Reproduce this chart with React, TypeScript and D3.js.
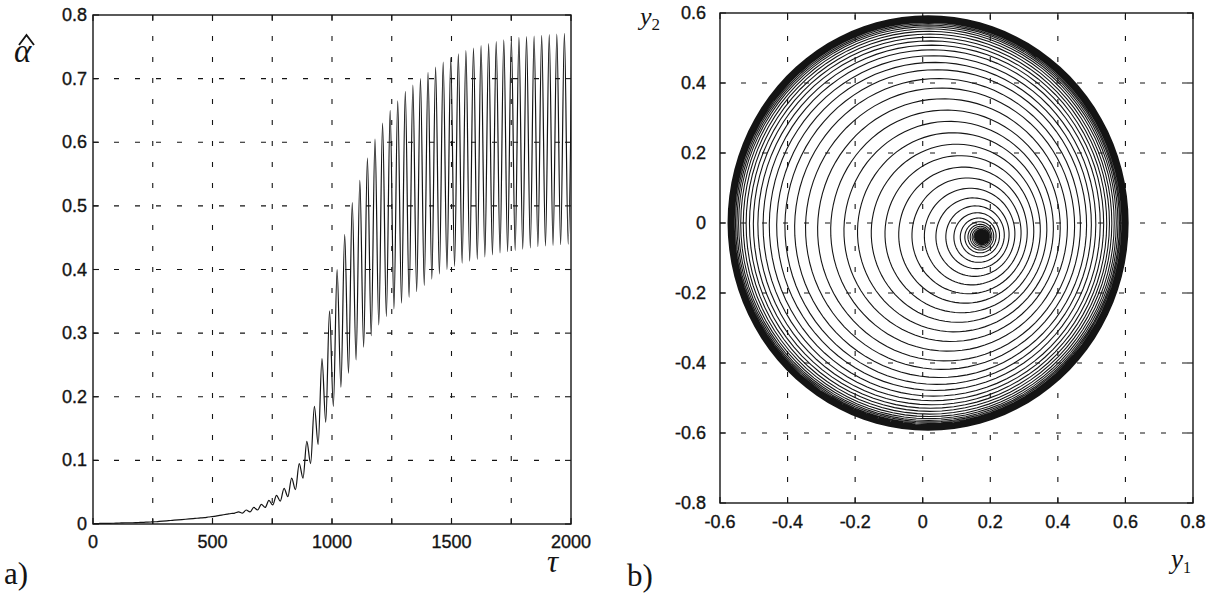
import React from 'react';
import * as d3 from 'd3';

// ---- panel a): alpha-hat vs tau, one peak and one trough per cycle ----
const firstPeakTau = 7;
const cyclePeriod = 31.7;
const alphaPeaks = [
  0.0005, 0.001, 0.001, 0.0015, 0.002, 0.002, 0.0025, 0.003, 0.0035, 0.0045,
  0.0055, 0.0065, 0.0075, 0.0085, 0.0095, 0.011, 0.0125, 0.0145, 0.0165, 0.019,
  0.022, 0.026, 0.031, 0.037, 0.045, 0.056, 0.072, 0.095, 0.13, 0.185,
  0.26, 0.335, 0.4, 0.455, 0.505, 0.54, 0.575, 0.605, 0.63, 0.65,
  0.665, 0.68, 0.69, 0.7, 0.71, 0.718, 0.726, 0.733, 0.739, 0.744,
  0.748, 0.752, 0.755, 0.758, 0.761, 0.763, 0.765, 0.766, 0.767, 0.768,
  0.769, 0.77, 0.771, 0.771,
];
const alphaTroughs = [
  0.0007, 0.001, 0.0012, 0.0017, 0.002, 0.0022, 0.0027, 0.0032, 0.004, 0.005,
  0.006, 0.007, 0.008, 0.009, 0.01, 0.0117, 0.0135, 0.0155, 0.0172, 0.017,
  0.019, 0.022, 0.026, 0.03, 0.036, 0.043, 0.054, 0.072, 0.095, 0.125,
  0.16, 0.185, 0.215, 0.237, 0.258, 0.278, 0.296, 0.313, 0.326, 0.338,
  0.347, 0.356, 0.365, 0.375, 0.385, 0.393, 0.4, 0.405, 0.41, 0.413,
  0.416, 0.42, 0.423, 0.426, 0.428, 0.43, 0.432, 0.434, 0.436, 0.437,
  0.438, 0.439, 0.44,
];
const tauTicks = [0, 250, 500, 750, 1000, 1250, 1500, 1750, 2000];
const tauLabels = [0, 500, 1000, 1500, 2000];
const alphaTicks = [0, 0.1, 0.2, 0.3, 0.4, 0.5, 0.6, 0.7, 0.8];

// ---- panel b): phase portrait, one entry per turn of the spiral ----
const equilibrium = [0.175, -0.04];
const driftDir = [-0.97, 0.244];
const ringRadius = [
  0.0005, 0.001, 0.001, 0.0015, 0.002, 0.002, 0.0025, 0.003, 0.0035, 0.0045,
  0.0055, 0.0065, 0.0075, 0.0085, 0.0095, 0.011, 0.0125, 0.0145, 0.0165, 0.018,
  0.0205, 0.024, 0.0285, 0.0335, 0.04, 0.049, 0.062, 0.08, 0.1, 0.125,
  0.152, 0.18, 0.21, 0.24, 0.27, 0.3, 0.33, 0.36, 0.39, 0.415,
  0.44, 0.46, 0.478, 0.495, 0.508, 0.52, 0.53, 0.539, 0.547, 0.554,
  0.56, 0.565, 0.569, 0.573, 0.576, 0.579, 0.581, 0.583, 0.585, 0.587,
  0.589, 0.5905, 0.592,
];
const ringShift = [
  0, 0, 0, 0, 0, 0, 0, 0, 0, 0,
  0, 0, 0, 0, 0, 0, 0, 0, 0, 0.001,
  0.0015, 0.002, 0.003, 0.004, 0.005, 0.007, 0.01, 0.014, 0.02, 0.028,
  0.037, 0.047, 0.058, 0.069, 0.08, 0.091, 0.101, 0.11, 0.119, 0.127,
  0.134, 0.14, 0.145, 0.149, 0.152, 0.155, 0.157, 0.159, 0.16, 0.161,
  0.162, 0.1625, 0.163, 0.1633, 0.1636, 0.1638, 0.164, 0.164, 0.164, 0.164,
  0.164, 0.164, 0.164,
];
const y1Ticks = [-0.6, -0.4, -0.2, 0, 0.2, 0.4, 0.6, 0.8];
const y2Ticks = [-0.8, -0.6, -0.4, -0.2, 0, 0.2, 0.4, 0.6];

const INK = '#141414';
const sans = 'Liberation Sans, Arial, Helvetica, sans-serif';
const serif = 'Liberation Serif, Times New Roman, serif';
const fmt = (v: number) => (Math.abs(v) < 1e-9 ? '0' : v.toFixed(1));

function Frame({ x, y, xTicks, yTicks }: any) {
  const [x0, x1] = x.range();
  const [y0, y1] = y.range();
  const tl = 6;
  return (
    <g stroke={INK} fill="none">
      {xTicks.filter((v: number) => x(v) > x0 + 1 && x(v) < x1 - 1).map((v: number) => (
        <line key={'gx' + v} x1={x(v)} x2={x(v)} y1={y0} y2={y1} strokeWidth={1.1} strokeDasharray="5 16" />
      ))}
      {yTicks.filter((v: number) => y(v) < y0 - 1 && y(v) > y1 + 1).map((v: number) => (
        <line key={'gy' + v} x1={x0} x2={x1} y1={y(v)} y2={y(v)} strokeWidth={1.1} strokeDasharray="5 16" />
      ))}
      {xTicks.map((v: number) => (
        <g key={'tx' + v}>
          <line x1={x(v)} x2={x(v)} y1={y0} y2={y0 - tl} strokeWidth={1.1} />
          <line x1={x(v)} x2={x(v)} y1={y1} y2={y1 + tl} strokeWidth={1.1} />
        </g>
      ))}
      {yTicks.map((v: number) => (
        <g key={'ty' + v}>
          <line x1={x0} x2={x0 + tl} y1={y(v)} y2={y(v)} strokeWidth={1.1} />
          <line x1={x1} x2={x1 - tl} y1={y(v)} y2={y(v)} strokeWidth={1.1} />
        </g>
      ))}
      <rect x={x0} y={y1} width={x1 - x0} height={y0 - y1} strokeWidth={1.4} />
    </g>
  );
}

export default function App() {
  // panel a scales
  const xL = d3.scaleLinear().domain([0, 2000]).range([93, 571]);
  const yL = d3.scaleLinear().domain([0, 0.8]).range([524, 15]);
  // panel b scales
  const xR = d3.scaleLinear().domain([-0.6, 0.8]).range([720, 1193]);
  const yR = d3.scaleLinear().domain([-0.8, 0.6]).range([503, 13]);

  const alphaPts: [number, number][] = [[0, 0]];
  alphaPeaks.forEach((p, j) => {
    const t = firstPeakTau + j * cyclePeriod;
    alphaPts.push([t, p]);
    if (j < alphaTroughs.length) alphaPts.push([t + cyclePeriod / 2, alphaTroughs[j]]);
  });
  const alphaLine = d3
    .line<[number, number]>()
    .x((d) => xL(d[0]))
    .y((d) => yL(d[1]))
    .curve(d3.curveMonotoneX)(alphaPts);

  // spiral: each turn blends from ring j to ring j+1
  const spiralPts: [number, number][] = [];
  const steps = 96;
  const n = ringRadius.length;
  for (let j = 0; j < n; j++) {
    const r0 = ringRadius[j];
    const r1 = ringRadius[Math.min(j + 1, n - 1)];
    const s0 = ringShift[j];
    const s1 = ringShift[Math.min(j + 1, n - 1)];
    for (let i = 0; i < steps; i++) {
      const t = i / steps;
      const r = r0 + (r1 - r0) * t;
      const s = s0 + (s1 - s0) * t;
      const cx = equilibrium[0] + driftDir[0] * s;
      const cy = equilibrium[1] + driftDir[1] * s;
      const phi = 2 * Math.PI * t;
      spiralPts.push([cx + r * Math.cos(phi), cy + r * Math.sin(phi)]);
    }
  }
  spiralPts.push(spiralPts[spiralPts.length - steps]);
  const spiralLine = d3
    .line<[number, number]>()
    .x((d) => xR(d[0]))
    .y((d) => yR(d[1]))(spiralPts);

  const labelStyle = { stroke: INK, strokeWidth: 0.35 };

  return (
    <svg width={1225} height={597} style={{ position: 'absolute', left: 0, top: 0, background: '#fff' }}>
      <defs>
        <clipPath id="clipL">
          <rect x={93} y={15} width={478} height={509} />
        </clipPath>
        <clipPath id="clipR">
          <rect x={720} y={13} width={473} height={490} />
        </clipPath>
      </defs>

      {/* panel a */}
      <Frame x={xL} y={yL} xTicks={tauTicks} yTicks={alphaTicks} />
      <path d={alphaLine || ''} fill="none" stroke={INK} strokeWidth={1.2} clipPath="url(#clipL)" />
      <g fontFamily={sans} fontSize={18} fill={INK} style={labelStyle}>
        {alphaTicks.map((v) => (
          <text key={v} x={87} y={yL(v)} textAnchor="end" dominantBaseline="central">{fmt(v)}</text>
        ))}
        {tauLabels.map((v) => (
          <text key={v} x={xL(v)} y={548} textAnchor="middle">{v}</text>
        ))}
      </g>
      <text x={14} y={62} fontFamily={serif} fontStyle="italic" fontSize={33} fill={INK}>α</text>
      <path d="M19,45 L26.5,35 L34,45" fill="none" stroke={INK} strokeWidth={1.9} />
      <text x={547} y={572} fontFamily={serif} fontStyle="italic" fontSize={31} fill={INK}>τ</text>
      <text x={4} y={584} fontFamily={serif} fontSize={31} fill={INK}>a)</text>

      {/* panel b */}
      <Frame x={xR} y={yR} xTicks={y1Ticks} yTicks={y2Ticks} />
      <path d={spiralLine || ''} fill="none" stroke={INK} strokeWidth={1.1} clipPath="url(#clipR)" />
      <g fontFamily={sans} fontSize={18} fill={INK} style={labelStyle}>
        {y2Ticks.map((v) => (
          <text key={v} x={706} y={yR(v)} textAnchor="end" dominantBaseline="central">{fmt(v)}</text>
        ))}
        {y1Ticks.map((v) => (
          <text key={v} x={xR(v)} y={528} textAnchor="middle">{fmt(v)}</text>
        ))}
      </g>
      <text x={640} y={25} fontFamily={serif} fontStyle="italic" fontSize={26} fill={INK}>
        y<tspan fontStyle="normal" fontSize={17} dy={5}>2</tspan>
      </text>
      <text x={1171} y={568} fontFamily={serif} fontStyle="italic" fontSize={27} fill={INK}>
        y<tspan fontStyle="normal" fontSize={16} dy={5}>1</tspan>
      </text>
      <text x={627} y={586} fontFamily={serif} fontSize={31} fill={INK}>b)</text>
    </svg>
  );
}
